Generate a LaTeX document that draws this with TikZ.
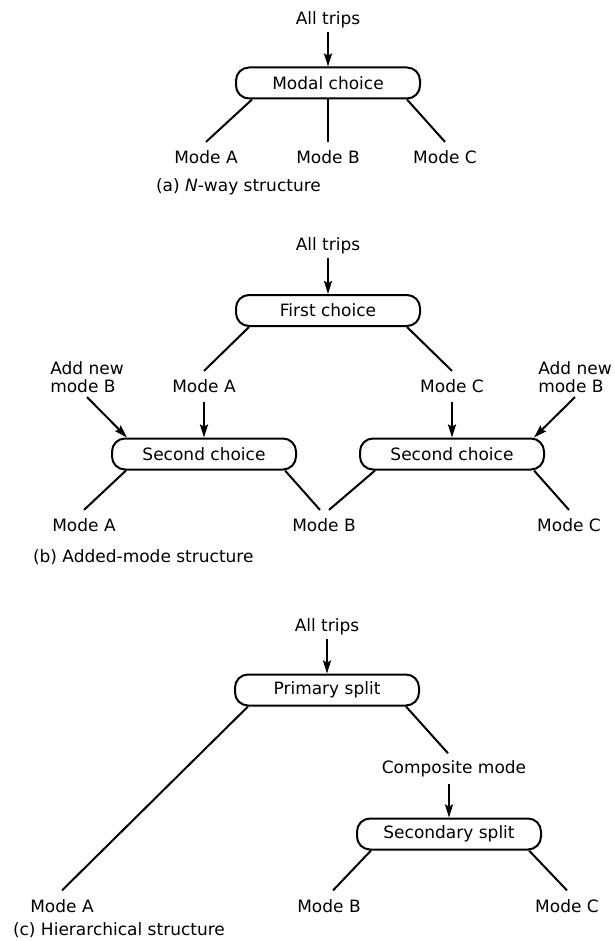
\documentclass[tikz,border=0pt]{standalone}
\usepackage{fontspec}
\setmainfont{DejaVu Sans}
\usetikzlibrary{arrows.meta}

\begin{document}
\begin{tikzpicture}[x=1pt,y=-1pt,line width=2pt,>={Stealth[length=13pt,width=8pt,inset=2pt]},
every node/.style={font=\fontsize{17}{18}\selectfont},
choice/.style={draw,rounded corners=13pt,minimum width=184pt,minimum height=31pt,inner sep=0pt},
trips/.style={inner sep=3pt},
mode/.style={inner sep=8pt},
caption/.style={anchor=west,inner sep=0pt}]

\useasboundingbox(0,0)rectangle(614,941);

\node[trips](tripsA)at(328,20){All trips};
\node[choice](modal)at(328,83){Modal choice};
\node[mode](modeA1)at(206,157.5){Mode A};
\node[mode](modeB1)at(328,157.5){Mode B};
\node[mode](modeC1)at(445,157.5){Mode C};
\node[caption](capA)at(155,187){(a) \textit{N}-way structure};

\path(tripsA)edge[->](modal)
	([xshift=17pt]modal.south west)edge(modeA1.north)
	(modal)edge(modeB1)
	([xshift=-14pt]modal.south east)edge(modeC1.north);

\node[trips](tripsB)at(328,246){All trips};
\node[choice](first)at(328,310.5){First choice};
\node[mode](modeA2)at(204,386.5){Mode A};
\node[mode](modeC2)at(452,386.5){Mode C};
\node[trips,align=left](addL)at(87,377.5){Add new\\mode B};
\node[trips,align=left](addR)at(575,377.5){Add new\\mode B};
\node[choice](secondL)at(204,454){Second choice};
\node[choice](secondR)at(452,454){Second choice};
\node[mode](modeA3)at(84,525.5){Mode A};
\node[mode](modeB3)at(324,525.5){Mode B};
\node[mode](modeC3)at(569,525.5){Mode C};
\node[caption](capB)at(32,557){(b) Added-mode structure};

\path(tripsB)edge[->](first)
	([xshift=14pt]first.south west)edge(modeA2.north)
	([xshift=-14pt]first.south east)edge(modeC2.north)
	(modeA2)edge[->](secondL)
	(modeC2)edge[->](secondR)
	(addL.south)edge[->]([xshift=16pt]secondL.north west)
	(addR.south)edge[->]([xshift=-11pt]secondR.north east)
	([xshift=15pt]secondL.south west)edge(modeA3.north)
	([xshift=-12pt]secondL.south east)edge([xshift=-4pt]modeB3.north)
	([xshift=16pt]secondR.south west)edge([xshift=5pt]modeB3.north)
	([xshift=-11pt]secondR.south east)edge(modeC3.north);

\node[trips](tripsC)at(327,626.5){All trips};
\node[choice](primary)at(327,690){Primary split};
\node[mode,inner sep=6pt](comp)at(454,768.5){Composite mode};
\node[choice](secondary)at(449,834){Secondary split};
\node[mode](modeA4)at(62,906){Mode A};
\node[mode](modeB4)at(329,906){Mode B};
\node[mode](modeC4)at(567,906){Mode C};
\node[caption](capC)at(12,930){(c) Hierarchical structure};

\path(tripsC)edge[->](primary)
	([xshift=14pt]primary.south west)edge(modeA4.north)
	([xshift=-14pt]primary.south east)edge([xshift=-6pt]comp.north)
	(comp.south -| secondary.north)edge[->](secondary.north)
	([xshift=15pt]secondary.south west)edge([xshift=4pt]modeB4.north)
	([xshift=-13pt]secondary.south east)edge(modeC4.north);

\end{tikzpicture}
\end{document}
